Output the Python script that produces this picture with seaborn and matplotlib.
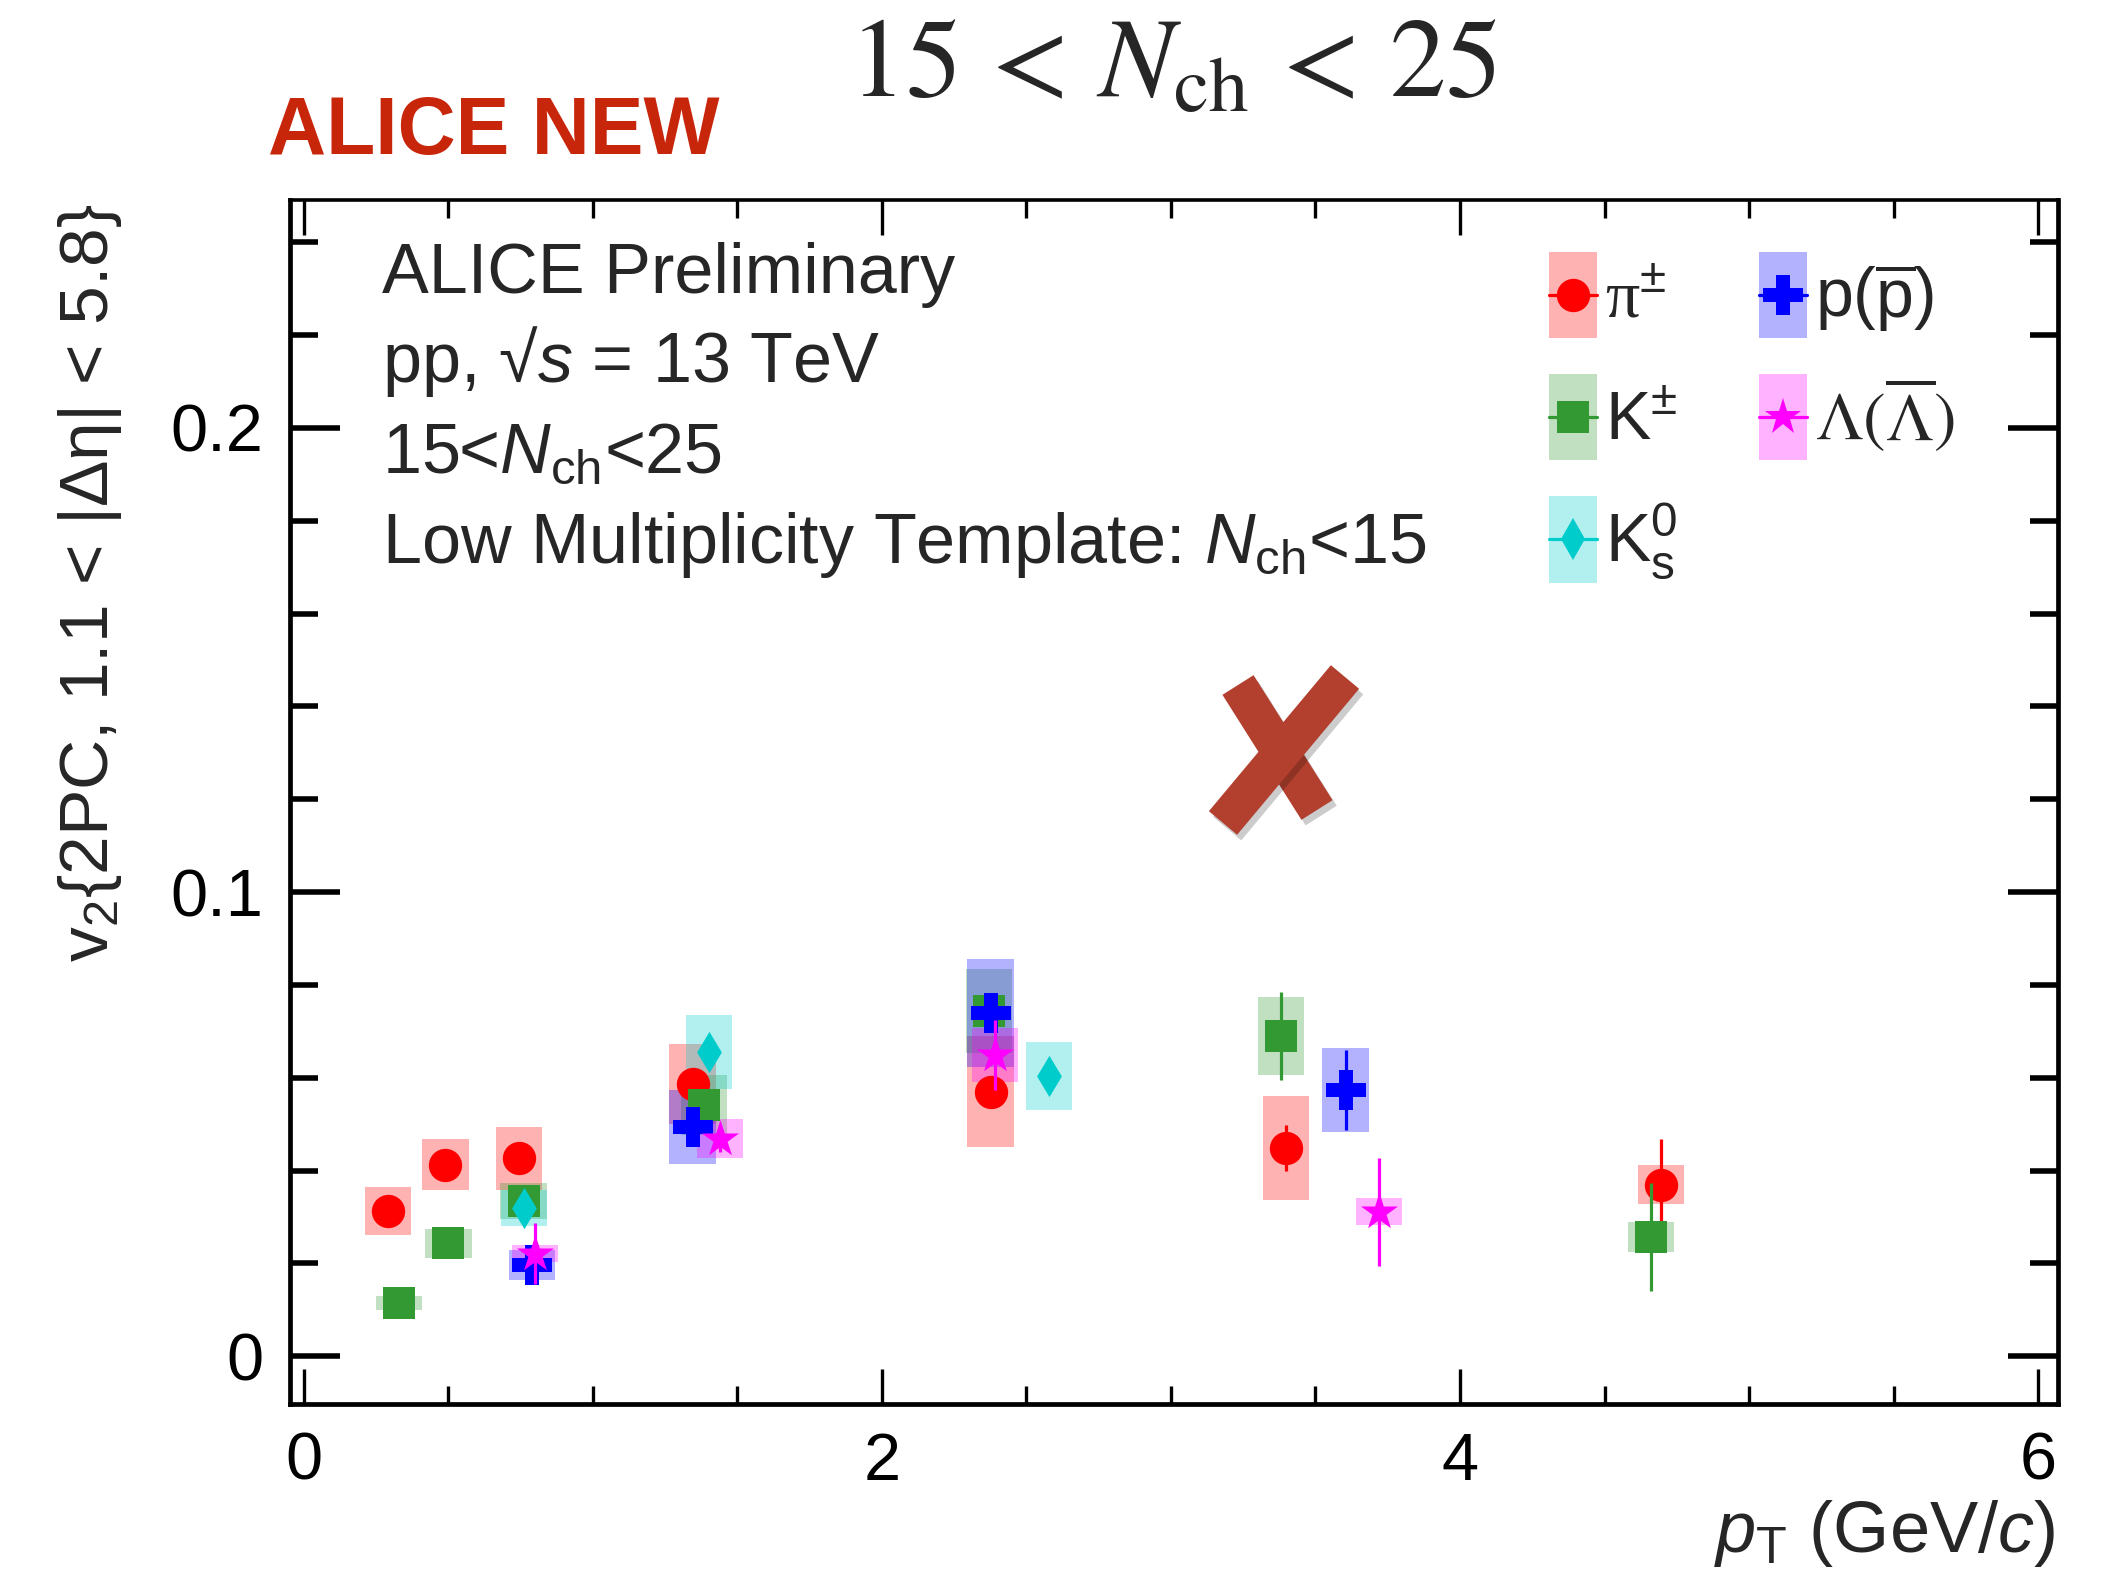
import numpy as np
import pandas as pd
import matplotlib
matplotlib.use("Agg")
import matplotlib.pyplot as plt
import seaborn as sns
from matplotlib.lines import Line2D
from matplotlib.patches import Patch
from matplotlib.legend_handler import HandlerTuple, HandlerLine2D
from matplotlib import ticker
import matplotlib.patheffects as pe

# ---- v2{2PC} vs pT, 15 < Nch < 25 -------------------------------------------
pi_pt   = [0.29, 0.49, 0.745, 1.345, 2.376, 3.398, 4.696]
pi_v2   = [0.0313, 0.0412, 0.0426, 0.0586, 0.0570, 0.0449, 0.0369]
pi_stat = [0.0015, 0.0015, 0.0015, 0.0020, 0.0025, 0.0050, 0.0098]
pi_sys  = [0.0052, 0.0055, 0.0067, 0.0086, 0.0120, 0.0112, 0.0042]

k_pt    = [0.33, 0.50, 0.76, 1.384, 2.371, 3.382, 4.660]
k_v2    = [0.0114, 0.0243, 0.0335, 0.0541, 0.0744, 0.0690, 0.0257]
k_stat  = [0.0010, 0.0012, 0.0015, 0.0020, 0.0030, 0.0094, 0.0117]
k_sys   = [0.0015, 0.0032, 0.0039, 0.0065, 0.0090, 0.0084, 0.0032]

k0_pt   = [0.762, 1.402, 2.579]
k0_v2   = [0.0320, 0.0656, 0.0604]
k0_stat = [0.0015, 0.0020, 0.0025]
k0_sys  = [0.0039, 0.0080, 0.0074]

p_pt    = [0.788, 1.345, 2.376, 3.604]
p_v2    = [0.0196, 0.0494, 0.0740, 0.0573]
p_stat  = [0.0020, 0.0025, 0.0030, 0.0086]
p_sys   = [0.0032, 0.0079, 0.0116, 0.0091]

lam_pt   = [0.799, 1.439, 2.391, 3.719]
lam_v2   = [0.0221, 0.0469, 0.0649, 0.0311]
lam_stat = [0.0065, 0.0030, 0.0075, 0.0116]
lam_sys  = [0.0019, 0.0043, 0.0058, 0.0029]

species_labels = [r"π$^{\pm}$", r"$\mathrm{K}^{\pm}$", r"$\mathrm{K}^{0}_{\mathrm{s}}$",
                  r"$\mathrm{p}(\overline{\mathrm{p}})$", r"$\Lambda(\overline{\Lambda})$"]

x_ticks = [0, 2, 4, 6]
y_ticks = [0.0, 0.1, 0.2]

# ---- styling -----------------------------------------------------------------
sns.set_theme(style="ticks")
plt.rcParams["font.family"] = ["Liberation Sans", "DejaVu Sans"]
plt.rcParams["mathtext.fontset"] = "custom"
plt.rcParams["mathtext.rm"] = "Liberation Sans"
plt.rcParams["mathtext.it"] = "Liberation Sans:italic"
plt.rcParams["mathtext.bf"] = "Liberation Sans:bold"
plt.rcParams["mathtext.sf"] = "Liberation Sans"

styles = [
    # data, colour, marker, marker size (pt)
    (pi_pt, pi_v2, pi_stat, pi_sys, "#ff0000", "o", 24),
    (k_pt, k_v2, k_stat, k_sys, "#339933", "s", 23),
    (k0_pt, k0_v2, k0_stat, k0_sys, "#00cccc", "d", 21),
    (p_pt, p_v2, p_stat, p_sys, "#0000ff", "P", 29),
    (lam_pt, lam_v2, lam_stat, lam_sys, "#ff00ff", "*", 28),
]


class CenteredLine(HandlerLine2D):
    """Line + marker placed at the vertical centre of the legend box."""

    def create_artists(self, legend, orig_handle, xdescent, ydescent, width,
                       height, fontsize, trans):
        artists = super().create_artists(legend, orig_handle, xdescent, ydescent,
                                         width, height, fontsize, trans)
        for a in artists:
            a.set_ydata(np.full_like(np.asarray(a.get_ydata(), float),
                                     height / 2 - ydescent))
        return artists


W, H = 2102, 1576
fig = plt.figure(figsize=(W / 100, H / 100), dpi=100)
ax = fig.add_axes([290 / W, 1 - 1404 / H, (2058 - 290) / W, (1404 - 200) / H])

box_w = 0.16
handles = []
for i, (pt, v2, stat, sys_, col, mk, ms) in enumerate(styles):
    df = pd.DataFrame({"pt": pt, "v2": v2, "stat": stat, "sys": sys_})
    # systematic boxes
    ax.bar(df["pt"], 2 * df["sys"], bottom=df["v2"] - df["sys"], width=box_w,
           color=col, alpha=0.3, linewidth=0, zorder=1)
    # statistical errors
    ax.errorbar(df["pt"], df["v2"], yerr=df["stat"], fmt="none", ecolor=col,
                elinewidth=2.3, capsize=0, zorder=3 + 2 * i)
    sns.scatterplot(data=df, x="pt", y="v2", marker=mk, s=ms ** 2, color=col,
                    linewidth=0, ax=ax, zorder=4 + 2 * i, legend=False)
    handles.append((Patch(facecolor=col, alpha=0.3, linewidth=0),
                    Line2D([0], [0], color=col, lw=2.3, marker=mk, ms=ms, mew=0)))

ax.set_xlim(-0.048, 6.069)
ax.set_ylim(-0.0103, 0.2491)
ax.set_xticks(x_ticks)
ax.set_yticks(y_ticks)
ax.xaxis.set_minor_locator(ticker.MultipleLocator(0.5))
ax.yaxis.set_minor_locator(ticker.MultipleLocator(0.02))
ax.yaxis.set_major_formatter(ticker.FuncFormatter(lambda v, _: f"{v:g}"))
ax.set_xlabel("")
ax.set_ylabel("")

ax.tick_params(axis="both", which="both", direction="in", top=True, right=True,
               colors="black", labelsize=48)
ax.tick_params(axis="y", which="major", length=36, width=4.0, pad=19)
ax.tick_params(axis="y", which="minor", length=20, width=4.0)
ax.tick_params(axis="x", which="major", length=25, width=2.4, pad=20)
ax.tick_params(axis="x", which="minor", length=13, width=2.4)
for side, sp in ax.spines.items():
    sp.set_visible(True)
    sp.set_linewidth(3.4)
    sp.set_color("black")
ax.spines["top"].set_linewidth(2.6)

# axis titles
fig.text(90 / W, 1 - 583 / H, r"v$_{2}${2PC, 1.1 < |Δη| < 5.8}", rotation=90,
         ha="center", va="center", fontsize=50)
fig.text(2055 / W, 1 - 1552 / H, r"$p_{\mathrm{T}}$ (GeV/$c$)", ha="right",
         va="baseline", fontsize=52)

# header
fig.text(268 / W, 1 - 154 / H, "ALICE NEW", fontsize=58, weight="bold",
         color="#c8260b")
fig.text(1173 / W, 1 - 97 / H, r"$15\,<\,N_{\mathrm{ch}}\,<\,25$", fontsize=81,
         ha="center", va="baseline", math_fontfamily="stix")

# in-frame annotations
info = ["ALICE Preliminary",
        r"pp, √$s$ = 13 TeV",
        r"15<$N_{\mathrm{ch}}$<25",
        r"Low Multiplicity Template: $N_{\mathrm{ch}}$<15"]
for txt, yb in zip(info, [293, 382, 473, 563]):
    fig.text(382 / W, 1 - yb / H, txt, fontsize=50.5, va="baseline")

# legend
fs = 49
fpx = fs * 100 / 72
leg = ax.legend(handles, species_labels,
                handler_map={tuple: HandlerTuple(ndivide=1, pad=0),
                             Line2D: CenteredLine()},
                ncol=2, loc="upper left", bbox_to_anchor=(1549 / W, 1 - 252 / H),
                bbox_transform=fig.transFigure, frameon=False, fontsize=fs,
                handlelength=48 / fpx, handleheight=1.57, handletextpad=8 / fpx,
                labelspacing=0.53, columnspacing=1.2, borderpad=0, borderaxespad=0)
for t, fam, face in zip(leg.get_texts(),
                        ["custom", "custom", "custom", "custom", "stix"],
                        ["Liberation Serif", None, None, None, None]):
    t.set_math_fontfamily(fam)
    if face:
        t.set_family([face, "DejaVu Serif"])

# hand-drawn cross over the plot
cross_col = "#b3402f"
shadow = [pe.SimpleLineShadow(offset=(3, -4), shadow_color="black", alpha=0.2),
          pe.Normal()]
for (x0, y0), (x1, y1) in [((1238, 685), (1317, 810)), ((1345, 677), (1223, 823))]:
    fig.add_artist(Line2D([x0 / W, x1 / W], [1 - y0 / H, 1 - y1 / H],
                          transform=fig.transFigure, color=cross_col, lw=26.5,
                          solid_capstyle="butt", path_effects=shadow, zorder=20))

fig.savefig("out.png", dpi=100)
